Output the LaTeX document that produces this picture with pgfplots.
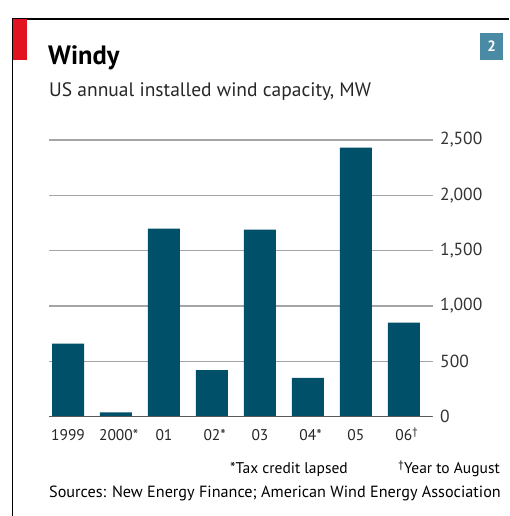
\documentclass[border=0pt]{standalone}
\usepackage{fontspec}
\setmainfont{PT Sans}
\usepackage{pgfplots}
\pgfplotsset{compat=1.18}
\definecolor{barblue}{RGB}{0,80,105}
\definecolor{ecored}{RGB}{227,18,32}
\definecolor{boxblue}{RGB}{74,138,165}
\definecolor{gridgray}{RGB}{165,165,165}

\begin{document}
\begin{tikzpicture}
    \path[use as bounding box] (0,0) rectangle (509pt,516pt);
    % frame, red tag and chart number
    \draw[line width=1.3pt] (12.5pt,0) -- (12.5pt,497pt) -- (509pt,497pt);
    \fill[ecored] (12.5pt,456pt) rectangle (27pt,496.5pt);
    \fill[boxblue] (480pt,456pt) rectangle (503pt,483pt);
    \node[text=white, font=\bfseries\fontsize{15}{15}\selectfont] at (491.5pt,469.5pt) {2};
    % titles
    \node[anchor=base west, inner sep=0, font=\bfseries\fontsize{26.5}{26.5}\selectfont] at (48pt,451pt) {Windy};
    \node[anchor=base west, inner sep=0, text=black!85, font=\fontsize{19.5}{19.5}\selectfont] at (49pt,419pt) {US annual installed wind capacity, MW};

    \begin{axis}[
            at = {(49pt,99.3pt)}, anchor = south west,
            scale only axis,
            width = 383.7pt, height = 276.7pt,
            xmin = -0.396, xmax = 7.6, %
            ymin = 0, ymax = 2500, %
            ytick = {0,500,1000,1500,2000,2500},
            xtick = {0,...,7},
            xticklabels = {1999, 2000\rlap{*}, 01, 02\rlap{*}, 03, 04\rlap{*}, 05, 06\rlap{\textsuperscript{\textdagger}}},
            axis x line* = bottom,
            axis y line* = right,
            axis line style = {draw=none},
            major tick length = 0pt,
            ymajorgrids,
            major grid style = {gridgray, line width=1.4pt},
            yticklabel style = {anchor=west, xshift=4pt, text=black!80, font=\fontsize{17.5}{17.5}\selectfont},
            xticklabel style = {font=\fontsize{15.5}{15.5}\selectfont, text=black!85, text height=11pt, text depth=0pt, yshift=-9pt},
            /pgf/number format/.cd, 1000 sep={,}, assume math mode=true,
        ]
        \addplot[ybar, bar width=32pt, fill=barblue, draw=none] coordinates {
                (0, 660)
                (1, 40)
                (2, 1700)
                (3, 420)
                (4, 1690)
                (5, 350)
                (6, 2430)
                (7, 850)
            };
        \draw[black!65, line width=1.4pt] (axis cs:-0.396,0) -- (axis cs:7.6,0);
    \end{axis}
    % footnotes
    \node[anchor=base east, inner sep=0, font=\fontsize{15.5}{15.5}\selectfont] at (348pt,42pt) {*Tax credit lapsed};
    \node[anchor=base east, inner sep=0, font=\fontsize{15.5}{15.5}\selectfont] at (500pt,42pt) {\textsuperscript{\textdagger}Year to August};
    \node[anchor=base west, inner sep=0, font=\fontsize{16.2}{16.2}\selectfont] at (49pt,18pt) {Sources: New Energy Finance; American Wind Energy Association};
\end{tikzpicture}
\end{document}
